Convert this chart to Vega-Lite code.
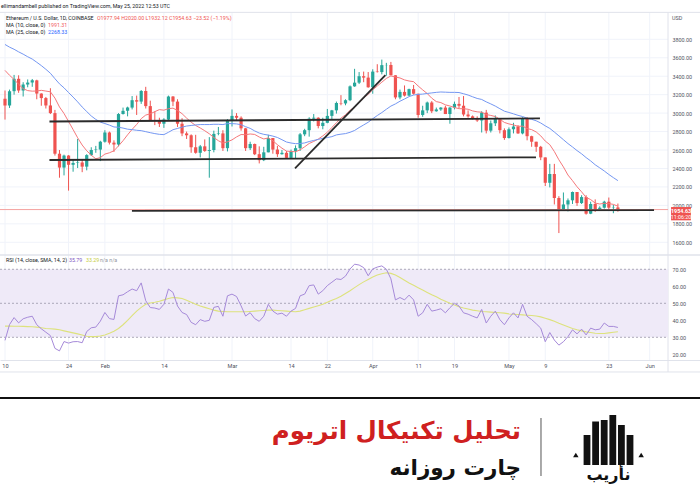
{
  "$schema": "https://vega.github.io/schema/vega-lite/v6.json",
  "width": 700,
  "height": 500,
  "autosize": {"type": "none"},
  "padding": 0,
  "background": "white",
  "config": {
    "view": {"stroke": null},
    "font": "Roboto",
    "axis": {"domain": false, "ticks": false, "grid": false, "labelFont": "Roboto", "labelFontSize": 5.4, "labelColor": "#50535e"}
  },
  "datasets": {
    "d": [
      {"t":"2022-01-10","o":3157,"h":3245,"l":2930,"c":3083,"m10":3463,"m25":3744,"rsi":28.2,"rsm":36.6},
      {"t":"2022-01-11","o":3083,"h":3255,"l":3056,"c":3238,"m10":3410,"m25":3715,"rsi":37.5,"rsm":36.6},
      {"t":"2022-01-12","o":3238,"h":3414,"l":3200,"c":3372,"m10":3365,"m25":3692,"rsi":41.6,"rsm":36.5},
      {"t":"2022-01-13","o":3372,"h":3410,"l":3220,"c":3245,"m10":3313,"m25":3664,"rsi":38.5,"rsm":36.5},
      {"t":"2022-01-14","o":3245,"h":3335,"l":3180,"c":3310,"m10":3265,"m25":3639,"rsi":40.9,"rsm":36.4},
      {"t":"2022-01-15","o":3310,"h":3365,"l":3280,"c":3331,"m10":3244,"m25":3611,"rsi":41.8,"rsm":36.3},
      {"t":"2022-01-16","o":3331,"h":3370,"l":3285,"c":3355,"m10":3238,"m25":3586,"rsi":42.4,"rsm":36.2},
      {"t":"2022-01-17","o":3355,"h":3362,"l":3150,"c":3212,"m10":3240,"m25":3551,"rsi":37.4,"rsm":36.0},
      {"t":"2022-01-18","o":3212,"h":3215,"l":3080,"c":3163,"m10":3247,"m25":3515,"rsi":35.0,"rsm":35.6},
      {"t":"2022-01-19","o":3163,"h":3175,"l":3050,"c":3083,"m10":3239,"m25":3475,"rsi":33.0,"rsm":35.2},
      {"t":"2022-01-20","o":3083,"h":3270,"l":2990,"c":3000,"m10":3231,"m25":3432,"rsi":31.0,"rsm":35.0},
      {"t":"2022-01-21","o":3000,"h":3035,"l":2540,"c":2560,"m10":3163,"m25":3373,"rsi":23.5,"rsm":34.8},
      {"t":"2022-01-22","o":2560,"h":2600,"l":2300,"c":2410,"m10":3067,"m25":3317,"rsi":22.0,"rsm":34.4},
      {"t":"2022-01-23","o":2410,"h":2550,"l":2325,"c":2540,"m10":2996,"m25":3274,"rsi":27.5,"rsm":33.8},
      {"t":"2022-01-24","o":2540,"h":2545,"l":2160,"c":2440,"m10":2909,"m25":3223,"rsi":26.6,"rsm":33.2},
      {"t":"2022-01-25","o":2440,"h":2500,"l":2365,"c":2460,"m10":2822,"m25":3174,"rsi":27.4,"rsm":32.6},
      {"t":"2022-01-26","o":2460,"h":2720,"l":2405,"c":2465,"m10":2733,"m25":3122,"rsi":27.5,"rsm":32.0},
      {"t":"2022-01-27","o":2465,"h":2500,"l":2360,"c":2420,"m10":2654,"m25":3066,"rsi":26.8,"rsm":31.3},
      {"t":"2022-01-28","o":2420,"h":2555,"l":2380,"c":2545,"m10":2592,"m25":3017,"rsi":33.4,"rsm":30.6},
      {"t":"2022-01-29","o":2545,"h":2630,"l":2535,"c":2600,"m10":2544,"m25":2969,"rsi":35.6,"rsm":30.4},
      {"t":"2022-01-30","o":2600,"h":2645,"l":2570,"c":2605,"m10":2505,"m25":2932,"rsi":36.0,"rsm":30.4},
      {"t":"2022-01-31","o":2605,"h":2700,"l":2480,"c":2690,"m10":2518,"m25":2903,"rsi":39.5,"rsm":30.8},
      {"t":"2022-02-01","o":2690,"h":2815,"l":2680,"c":2790,"m10":2556,"m25":2887,"rsi":44.6,"rsm":31.4},
      {"t":"2022-02-02","o":2790,"h":2800,"l":2660,"c":2680,"m10":2570,"m25":2870,"rsi":41.0,"rsm":32.4},
      {"t":"2022-02-03","o":2680,"h":2705,"l":2580,"c":2660,"m10":2592,"m25":2850,"rsi":40.5,"rsm":33.6},
      {"t":"2022-02-04","o":2660,"h":3000,"l":2640,"c":2990,"m10":2645,"m25":2847,"rsi":54.4,"rsm":35.2},
      {"t":"2022-02-05","o":2990,"h":3060,"l":2985,"c":3025,"m10":2701,"m25":2838,"rsi":55.0,"rsm":37.4},
      {"t":"2022-02-06","o":3025,"h":3070,"l":2965,"c":3060,"m10":2765,"m25":2826,"rsi":56.8,"rsm":40.0},
      {"t":"2022-02-07","o":3060,"h":3185,"l":3040,"c":3140,"m10":2824,"m25":2821,"rsi":58.4,"rsm":42.8},
      {"t":"2022-02-08","o":3140,"h":3190,"l":2980,"c":3125,"m10":2877,"m25":2814,"rsi":57.4,"rsm":45.4},
      {"t":"2022-02-09","o":3125,"h":3250,"l":3100,"c":3240,"m10":2940,"m25":2810,"rsi":62.0,"rsm":47.6},
      {"t":"2022-02-10","o":3240,"h":3285,"l":3050,"c":3076,"m10":2979,"m25":2799,"rsi":51.5,"rsm":49.4},
      {"t":"2022-02-11","o":3076,"h":3135,"l":2920,"c":2925,"m10":2992,"m25":2788,"rsi":47.5,"rsm":50.2},
      {"t":"2022-02-12","o":2925,"h":3020,"l":2870,"c":2915,"m10":3016,"m25":2778,"rsi":47.2,"rsm":50.6},
      {"t":"2022-02-13","o":2915,"h":2950,"l":2850,"c":2885,"m10":3038,"m25":2770,"rsi":46.4,"rsm":51.2},
      {"t":"2022-02-14","o":2885,"h":2945,"l":2840,"c":2930,"m10":3032,"m25":2767,"rsi":49.4,"rsm":52.0},
      {"t":"2022-02-15","o":2930,"h":3190,"l":2925,"c":3180,"m10":3048,"m25":2792,"rsi":58.4,"rsm":52.8},
      {"t":"2022-02-16","o":3180,"h":3185,"l":3075,"c":3125,"m10":3054,"m25":2820,"rsi":56.4,"rsm":53.4},
      {"t":"2022-02-17","o":3125,"h":3150,"l":2850,"c":2885,"m10":3029,"m25":2834,"rsi":48.4,"rsm":53.2},
      {"t":"2022-02-18","o":2885,"h":2945,"l":2750,"c":2780,"m10":2994,"m25":2848,"rsi":44.6,"rsm":52.8},
      {"t":"2022-02-19","o":2780,"h":2800,"l":2720,"c":2760,"m10":2946,"m25":2860,"rsi":43.4,"rsm":51.8},
      {"t":"2022-02-20","o":2760,"h":2770,"l":2570,"c":2630,"m10":2902,"m25":2866,"rsi":38.8,"rsm":50.6},
      {"t":"2022-02-21","o":2630,"h":2765,"l":2560,"c":2570,"m10":2866,"m25":2872,"rsi":37.4,"rsm":49.4},
      {"t":"2022-02-22","o":2570,"h":2655,"l":2520,"c":2640,"m10":2839,"m25":2876,"rsi":40.4,"rsm":48.4},
      {"t":"2022-02-23","o":2640,"h":2715,"l":2580,"c":2590,"m10":2809,"m25":2876,"rsi":39.4,"rsm":47.6},
      {"t":"2022-02-24","o":2590,"h":2740,"l":2300,"c":2600,"m10":2776,"m25":2876,"rsi":40.0,"rsm":46.8},
      {"t":"2022-02-25","o":2600,"h":2810,"l":2575,"c":2775,"m10":2736,"m25":2879,"rsi":47.6,"rsm":46.0},
      {"t":"2022-02-26","o":2775,"h":2850,"l":2760,"c":2780,"m10":2701,"m25":2879,"rsi":48.2,"rsm":45.4},
      {"t":"2022-02-27","o":2780,"h":2815,"l":2590,"c":2620,"m10":2675,"m25":2876,"rsi":42.4,"rsm":45.2},
      {"t":"2022-02-28","o":2620,"h":2935,"l":2585,"c":2920,"m10":2689,"m25":2887,"rsi":54.4,"rsm":45.0},
      {"t":"2022-03-01","o":2920,"h":3040,"l":2855,"c":2970,"m10":2710,"m25":2886,"rsi":55.4,"rsm":45.0},
      {"t":"2022-03-02","o":2970,"h":3000,"l":2915,"c":2950,"m10":2742,"m25":2883,"rsi":54.0,"rsm":45.0},
      {"t":"2022-03-03","o":2950,"h":2965,"l":2810,"c":2835,"m10":2768,"m25":2874,"rsi":48.5,"rsm":45.0},
      {"t":"2022-03-04","o":2835,"h":2840,"l":2590,"c":2620,"m10":2766,"m25":2853,"rsi":42.5,"rsm":45.0},
      {"t":"2022-03-05","o":2620,"h":2690,"l":2600,"c":2665,"m10":2774,"m25":2835,"rsi":44.5,"rsm":45.2},
      {"t":"2022-03-06","o":2665,"h":2670,"l":2545,"c":2555,"m10":2769,"m25":2807,"rsi":41.0,"rsm":45.4},
      {"t":"2022-03-07","o":2555,"h":2640,"l":2455,"c":2490,"m10":2741,"m25":2784,"rsi":39.4,"rsm":45.6},
      {"t":"2022-03-08","o":2490,"h":2635,"l":2480,"c":2575,"m10":2720,"m25":2770,"rsi":42.4,"rsm":45.8},
      {"t":"2022-03-09","o":2575,"h":2765,"l":2575,"c":2730,"m10":2731,"m25":2762,"rsi":49.4,"rsm":46.0},
      {"t":"2022-03-10","o":2730,"h":2730,"l":2560,"c":2605,"m10":2700,"m25":2751,"rsi":45.4,"rsm":46.0},
      {"t":"2022-03-11","o":2605,"h":2645,"l":2525,"c":2555,"m10":2658,"m25":2736,"rsi":43.6,"rsm":45.8},
      {"t":"2022-03-12","o":2555,"h":2600,"l":2550,"c":2570,"m10":2620,"m25":2712,"rsi":44.2,"rsm":45.6},
      {"t":"2022-03-13","o":2570,"h":2590,"l":2505,"c":2515,"m10":2588,"m25":2687,"rsi":42.4,"rsm":45.4},
      {"t":"2022-03-14","o":2515,"h":2605,"l":2505,"c":2590,"m10":2585,"m25":2676,"rsi":45.4,"rsm":45.2},
      {"t":"2022-03-15","o":2590,"h":2650,"l":2505,"c":2620,"m10":2581,"m25":2669,"rsi":47.0,"rsm":45.0},
      {"t":"2022-03-16","o":2620,"h":2785,"l":2590,"c":2770,"m10":2602,"m25":2670,"rsi":54.4,"rsm":45.4},
      {"t":"2022-03-17","o":2770,"h":2830,"l":2750,"c":2815,"m10":2635,"m25":2677,"rsi":55.4,"rsm":46.2},
      {"t":"2022-03-18","o":2815,"h":2955,"l":2745,"c":2940,"m10":2671,"m25":2692,"rsi":60.4,"rsm":47.0},
      {"t":"2022-03-19","o":2940,"h":2990,"l":2910,"c":2950,"m10":2693,"m25":2704,"rsi":60.8,"rsm":47.8},
      {"t":"2022-03-20","o":2950,"h":2955,"l":2835,"c":2860,"m10":2719,"m25":2715,"rsi":55.4,"rsm":48.6},
      {"t":"2022-03-21","o":2860,"h":2950,"l":2825,"c":2895,"m10":2753,"m25":2727,"rsi":57.4,"rsm":49.4},
      {"t":"2022-03-22","o":2895,"h":3045,"l":2890,"c":2970,"m10":2793,"m25":2735,"rsi":60.4,"rsm":50.6},
      {"t":"2022-03-23","o":2970,"h":3035,"l":2935,"c":3030,"m10":2844,"m25":2745,"rsi":62.4,"rsm":51.8},
      {"t":"2022-03-24","o":3030,"h":3125,"l":2995,"c":3110,"m10":2896,"m25":2764,"rsi":64.4,"rsm":52.8},
      {"t":"2022-03-25","o":3110,"h":3195,"l":3085,"c":3105,"m10":2945,"m25":2772,"rsi":64.0,"rsm":54.2},
      {"t":"2022-03-26","o":3105,"h":3150,"l":3085,"c":3140,"m10":2982,"m25":2778,"rsi":66.0,"rsm":55.8},
      {"t":"2022-03-27","o":3140,"h":3300,"l":3130,"c":3290,"m10":3029,"m25":2792,"rsi":70.2,"rsm":57.4},
      {"t":"2022-03-28","o":3290,"h":3480,"l":3285,"c":3330,"m10":3068,"m25":2812,"rsi":73.0,"rsm":59.2},
      {"t":"2022-03-29","o":3330,"h":3445,"l":3315,"c":3400,"m10":3113,"m25":2843,"rsi":72.5,"rsm":61.0},
      {"t":"2022-03-30","o":3400,"h":3450,"l":3335,"c":3385,"m10":3166,"m25":2872,"rsi":71.0,"rsm":62.6},
      {"t":"2022-03-31","o":3385,"h":3445,"l":3275,"c":3280,"m10":3204,"m25":2901,"rsi":66.2,"rsm":64.0},
      {"t":"2022-04-01","o":3280,"h":3475,"l":3210,"c":3450,"m10":3252,"m25":2939,"rsi":70.2,"rsm":65.4},
      {"t":"2022-04-02","o":3450,"h":3530,"l":3440,"c":3445,"m10":3294,"m25":2974,"rsi":71.3,"rsm":66.6},
      {"t":"2022-04-03","o":3445,"h":3580,"l":3420,"c":3520,"m10":3335,"m25":3006,"rsi":72.0,"rsm":67.4},
      {"t":"2022-04-04","o":3520,"h":3545,"l":3405,"c":3522,"m10":3376,"m25":3042,"rsi":70.0,"rsm":68.0},
      {"t":"2022-04-05","o":3522,"h":3555,"l":3410,"c":3410,"m10":3403,"m25":3076,"rsi":64.4,"rsm":67.6},
      {"t":"2022-04-06","o":3410,"h":3410,"l":3150,"c":3170,"m10":3391,"m25":3100,"rsi":52.0,"rsm":66.6},
      {"t":"2022-04-07","o":3170,"h":3255,"l":3150,"c":3230,"m10":3381,"m25":3129,"rsi":53.4,"rsm":65.2},
      {"t":"2022-04-08","o":3230,"h":3300,"l":3180,"c":3190,"m10":3360,"m25":3153,"rsi":52.0,"rsm":63.6},
      {"t":"2022-04-09","o":3190,"h":3265,"l":3185,"c":3260,"m10":3348,"m25":3179,"rsi":54.8,"rsm":62.0},
      {"t":"2022-04-10","o":3260,"h":3305,"l":3200,"c":3210,"m10":3341,"m25":3196,"rsi":52.0,"rsm":60.6},
      {"t":"2022-04-11","o":3210,"h":3210,"l":2950,"c":2980,"m10":3294,"m25":3203,"rsi":42.4,"rsm":59.2},
      {"t":"2022-04-12","o":2980,"h":3080,"l":2960,"c":3030,"m10":3252,"m25":3206,"rsi":44.4,"rsm":57.8},
      {"t":"2022-04-13","o":3030,"h":3125,"l":3000,"c":3115,"m10":3212,"m25":3213,"rsi":49.4,"rsm":56.4},
      {"t":"2022-04-14","o":3115,"h":3130,"l":3000,"c":3020,"m10":3162,"m25":3219,"rsi":45.4,"rsm":55.0},
      {"t":"2022-04-15","o":3020,"h":3060,"l":3015,"c":3040,"m10":3125,"m25":3225,"rsi":46.0,"rsm":53.8},
      {"t":"2022-04-16","o":3040,"h":3065,"l":3025,"c":3060,"m10":3114,"m25":3229,"rsi":46.8,"rsm":52.4},
      {"t":"2022-04-17","o":3060,"h":3080,"l":2990,"c":2990,"m10":3090,"m25":3227,"rsi":44.4,"rsm":51.2},
      {"t":"2022-04-18","o":2990,"h":3065,"l":2885,"c":3060,"m10":3077,"m25":3225,"rsi":47.4,"rsm":50.0},
      {"t":"2022-04-19","o":3060,"h":3125,"l":3040,"c":3100,"m10":3061,"m25":3225,"rsi":50.0,"rsm":49.0},
      {"t":"2022-04-20","o":3100,"h":3175,"l":3055,"c":3080,"m10":3048,"m25":3223,"rsi":48.4,"rsm":48.0},
      {"t":"2022-04-21","o":3080,"h":3185,"l":2965,"c":2985,"m10":3048,"m25":3210,"rsi":44.4,"rsm":47.2},
      {"t":"2022-04-22","o":2985,"h":3030,"l":2950,"c":2965,"m10":3042,"m25":3196,"rsi":43.6,"rsm":46.6},
      {"t":"2022-04-23","o":2965,"h":2975,"l":2930,"c":2935,"m10":3024,"m25":3177,"rsi":42.4,"rsm":46.0},
      {"t":"2022-04-24","o":2935,"h":2965,"l":2905,"c":2920,"m10":3014,"m25":3159,"rsi":41.4,"rsm":45.6},
      {"t":"2022-04-25","o":2920,"h":3020,"l":2790,"c":3005,"m10":3010,"m25":3148,"rsi":46.4,"rsm":45.2},
      {"t":"2022-04-26","o":3005,"h":3035,"l":2780,"c":2810,"m10":2985,"m25":3122,"rsi":38.4,"rsm":45.0},
      {"t":"2022-04-27","o":2810,"h":2920,"l":2790,"c":2890,"m10":2975,"m25":3100,"rsi":42.4,"rsm":44.8},
      {"t":"2022-04-28","o":2890,"h":2975,"l":2860,"c":2935,"m10":2963,"m25":3076,"rsi":45.4,"rsm":44.6},
      {"t":"2022-04-29","o":2935,"h":2945,"l":2780,"c":2815,"m10":2934,"m25":3048,"rsi":40.4,"rsm":44.4},
      {"t":"2022-04-30","o":2815,"h":2835,"l":2710,"c":2730,"m10":2899,"m25":3021,"rsi":37.4,"rsm":44.2},
      {"t":"2022-05-01","o":2730,"h":2845,"l":2725,"c":2825,"m10":2883,"m25":3007,"rsi":41.4,"rsm":43.8},
      {"t":"2022-05-02","o":2825,"h":2895,"l":2780,"c":2855,"m10":2872,"m25":2992,"rsi":44.4,"rsm":43.6},
      {"t":"2022-05-03","o":2855,"h":2870,"l":2775,"c":2780,"m10":2857,"m25":2976,"rsi":41.4,"rsm":43.4},
      {"t":"2022-05-04","o":2780,"h":2955,"l":2770,"c":2940,"m10":2859,"m25":2963,"rsi":49.4,"rsm":43.2},
      {"t":"2022-05-05","o":2940,"h":2955,"l":2705,"c":2750,"m10":2833,"m25":2945,"rsi":42.4,"rsm":43.0},
      {"t":"2022-05-06","o":2750,"h":2755,"l":2635,"c":2690,"m10":2821,"m25":2933,"rsi":40.4,"rsm":42.8},
      {"t":"2022-05-07","o":2690,"h":2690,"l":2580,"c":2635,"m10":2796,"m25":2917,"rsi":38.0,"rsm":42.5},
      {"t":"2022-05-08","o":2635,"h":2645,"l":2490,"c":2520,"m10":2754,"m25":2893,"rsi":35.4,"rsm":42.0},
      {"t":"2022-05-09","o":2520,"h":2520,"l":2210,"c":2245,"m10":2697,"m25":2862,"rsi":27.4,"rsm":41.2},
      {"t":"2022-05-10","o":2245,"h":2450,"l":2195,"c":2340,"m10":2658,"m25":2834,"rsi":32.8,"rsm":40.4},
      {"t":"2022-05-11","o":2340,"h":2450,"l":2010,"c":2080,"m10":2584,"m25":2795,"rsi":28.4,"rsm":39.4},
      {"t":"2022-05-12","o":2080,"h":2100,"l":1700,"c":1960,"m10":2494,"m25":2754,"rsi":25.4,"rsm":38.2},
      {"t":"2022-05-13","o":1960,"h":2140,"l":1950,"c":2010,"m10":2417,"m25":2712,"rsi":27.4,"rsm":37.2},
      {"t":"2022-05-14","o":2010,"h":2075,"l":1935,"c":2055,"m10":2329,"m25":2670,"rsi":30.4,"rsm":36.2},
      {"t":"2022-05-15","o":2055,"h":2150,"l":2015,"c":2145,"m10":2268,"m25":2633,"rsi":34.4,"rsm":35.2},
      {"t":"2022-05-16","o":2145,"h":2145,"l":1995,"c":2025,"m10":2202,"m25":2594,"rsi":32.0,"rsm":34.4},
      {"t":"2022-05-17","o":2025,"h":2110,"l":2015,"c":2090,"m10":2147,"m25":2559,"rsi":34.8,"rsm":33.8},
      {"t":"2022-05-18","o":2090,"h":2110,"l":1900,"c":1910,"m10":2086,"m25":2518,"rsi":31.4,"rsm":33.2},
      {"t":"2022-05-19","o":1910,"h":2040,"l":1905,"c":2015,"m10":2063,"m25":2482,"rsi":35.4,"rsm":32.8},
      {"t":"2022-05-20","o":2015,"h":2065,"l":1930,"c":1960,"m10":2025,"m25":2440,"rsi":34.4,"rsm":32.4},
      {"t":"2022-05-21","o":1960,"h":1990,"l":1945,"c":1975,"m10":2015,"m25":2407,"rsi":34.8,"rsm":32.2},
      {"t":"2022-05-22","o":1975,"h":2050,"l":1965,"c":2040,"m10":2023,"m25":2373,"rsi":38.4,"rsm":32.2},
      {"t":"2022-05-23","o":2040,"h":2085,"l":1960,"c":1975,"m10":2019,"m25":2335,"rsi":36.4,"rsm":32.6},
      {"t":"2022-05-24","o":1975,"h":2005,"l":1915,"c":1978,"m10":2011,"m25":2301,"rsi":36.4,"rsm":33.0},
      {"t":"2022-05-25","o":1977.94,"h":2020,"l":1932.12,"c":1954.63,"m10":1991.31,"m25":2268.33,"rsi":35.79,"rsm":33.29}
    ],
    "draw": [
      {"t1":"2022-01-19T19:00:00Z","t2":"2022-05-07T20:00:00Z","p1":2909,"p2":2942},
      {"t1":"2022-01-19T19:00:00Z","t2":"2022-05-06T23:00:00Z","p1":2492,"p2":2521},
      {"t1":"2022-02-06T23:00:00Z","t2":"2022-06-01T23:00:00Z","p1":1941,"p2":1949},
      {"t1":"2022-03-14T21:00:00Z","t2":"2022-04-03T19:00:00Z","p1":2402,"p2":3413}
    ],
    "ticks": [
      {"t":"2022-01-10"},{"t":"2022-01-24"},{"t":"2022-02-01"},{"t":"2022-02-14"},{"t":"2022-03-01"},{"t":"2022-03-14"},{"t":"2022-03-22"},
      {"t":"2022-04-01"},{"t":"2022-04-11"},{"t":"2022-04-19"},{"t":"2022-05-01"},{"t":"2022-05-09"},{"t":"2022-05-23"},{"t":"2022-06-01"}
    ],
    "levels": [{"v":1600},{"v":1800},{"v":2000},{"v":2200},{"v":2400},{"v":2600},{"v":2800},{"v":3000},{"v":3200},{"v":3400},{"v":3600},{"v":3800}],
    "rsiLevels": [{"v":70},{"v":50},{"v":30}],
    "logo": [{"i":0,"h":0.6},{"i":1,"h":0.87},{"i":2,"h":0.9},{"i":3,"h":1.0},{"i":4,"h":0.8},{"i":5,"h":0.6}]
  },
  "layer": [
    {
      "resolve": {"scale": {"y": "independent"}},
      "layer": [
        {
          "layer": [
            {
              "data": {"name": "ticks"},
              "mark": {"type": "rule", "color": "#f0f3fa", "strokeWidth": 1},
              "encoding": {
                "x": {"field": "t", "type": "temporal", "title": null,
                  "scale": {"type": "utc", "padding": 0, "domain": [{"year":2022,"month":"jan","date":8,"hours":21,"minutes":34,"utc":true},{"year":2022,"month":"jun","date":12,"hours":2,"utc":true}]},
                  "axis": {"orient": "bottom", "offset": -140, "domain": true, "domainColor": "#e0e3eb", "labelPadding": 3, "labelFontSize": 5.6, "labelBaseline": "top", "labelOverlap": false, "labelFlush": false,
                    "values": [
                      {"year":2022,"month":"jan","date":10,"utc":true},{"year":2022,"month":"jan","date":24,"utc":true},{"year":2022,"month":"feb","date":1,"utc":true},{"year":2022,"month":"feb","date":14,"utc":true},
                      {"year":2022,"month":"mar","date":1,"utc":true},{"year":2022,"month":"mar","date":14,"utc":true},{"year":2022,"month":"mar","date":22,"utc":true},{"year":2022,"month":"apr","date":1,"utc":true},
                      {"year":2022,"month":"apr","date":11,"utc":true},{"year":2022,"month":"apr","date":19,"utc":true},{"year":2022,"month":"may","date":1,"utc":true},{"year":2022,"month":"may","date":9,"utc":true},
                      {"year":2022,"month":"may","date":23,"utc":true},{"year":2022,"month":"jun","date":1,"utc":true}],
                    "labelExpr": "utcdate(datum.value) == 1 ? utcFormat(datum.value, '%b') : utcFormat(datum.value, '%-d')"}},
                "y": {"datum": 4092, "type": "quantitative", "scale": {"domain": [-1193, 4226], "nice": false, "zero": false, "padding": 0}},
                "y2": {"datum": 324}
              }
            },
            {
              "data": {"name": "levels"},
              "mark": {"type": "rule", "color": "#f0f3fa", "strokeWidth": 1},
              "encoding": {
                "y": {"field": "v", "type": "quantitative", "title": null,
                  "scale": {"domain": [-1193, 4226], "nice": false, "zero": false, "padding": 0},
                  "axis": {"orient": "right", "offset": -32, "labelPadding": 4, "format": ".2f", "labelFontSize": 5.4, "values": [1600,1800,2000,2200,2400,2600,2800,3000,3200,3400,3600,3800]}},
                "x": {"datum": {"year":2022,"month":"jan","date":8,"hours":21,"minutes":34,"utc":true}, "type": "temporal"},
                "x2": {"datum": {"year":2022,"month":"jun","date":5,"hours":1,"utc":true}}
              }
            },
            {
              "data": {"values": [{}]},
              "mark": {"type": "rule", "color": "#e0e3eb", "strokeWidth": 1},
              "encoding": {"y": {"datum": 4092, "type": "quantitative"}}
            },
            {
              "data": {"values": [{}]},
              "mark": {"type": "rule", "color": "#e0e3eb", "strokeWidth": 1.5},
              "encoding": {"y": {"datum": 1462, "type": "quantitative"}}
            },
            {
              "data": {"values": [{}]},
              "mark": {"type": "rule", "color": "#e0e3eb", "strokeWidth": 1},
              "encoding": {
                "x": {"datum": {"year":2022,"month":"jun","date":5,"hours":1,"utc":true}, "type": "temporal"},
                "y": {"datum": 4092, "type": "quantitative"},
                "y2": {"datum": 194}
              }
            },
            {
              "data": {"name": "d"},
              "mark": {"type": "rule", "strokeWidth": 1},
              "encoding": {
                "x": {"field": "t", "type": "temporal", "title": null},
                "y": {"field": "l", "type": "quantitative", "title": null},
                "y2": {"field": "h"},
                "color": {"condition": {"test": "datum.c >= datum.o", "value": "#26a69a"}, "value": "#ef5350"}
              }
            },
            {
              "data": {"name": "d"},
              "mark": {"type": "bar", "size": 3.2},
              "encoding": {
                "x": {"field": "t", "type": "temporal", "title": null},
                "y": {"field": "o", "type": "quantitative", "title": null},
                "y2": {"field": "c"},
                "color": {"condition": {"test": "datum.c >= datum.o", "value": "#26a69a"}, "value": "#ef5350"}
              }
            },
            {
              "data": {"name": "d"},
              "mark": {"type": "line", "color": "#f5787b", "strokeWidth": 1},
              "encoding": {
                "x": {"field": "t", "type": "temporal", "title": null},
                "y": {"field": "m10", "type": "quantitative", "title": null}
              }
            },
            {
              "data": {"name": "d"},
              "mark": {"type": "line", "color": "#7497f2", "strokeWidth": 1},
              "encoding": {
                "x": {"field": "t", "type": "temporal", "title": null},
                "y": {"field": "m25", "type": "quantitative", "title": null}
              }
            },
            {
              "data": {"values": [{}]},
              "mark": {"type": "rule", "color": "#f4a3a1", "strokeWidth": 1},
              "encoding": {
                "x": {"datum": {"year":2022,"month":"jan","date":8,"hours":21,"minutes":34,"utc":true}, "type": "temporal"},
                "x2": {"datum": {"year":2022,"month":"jun","date":5,"hours":1,"utc":true}},
                "y": {"datum": 1954.63, "type": "quantitative"}
              }
            },
            {
              "data": {"name": "draw"},
              "mark": {"type": "rule", "color": "#2b2b2b", "strokeWidth": 1.8},
              "encoding": {
                "x": {"field": "t1", "type": "temporal", "title": null},
                "x2": {"field": "t2"},
                "y": {"field": "p1", "type": "quantitative", "title": null},
                "y2": {"field": "p2"}
              }
            },
            {
              "data": {"values": [{}]},
              "mark": {"type": "rect", "color": "#ef5350"},
              "encoding": {
                "x": {"datum": {"year":2022,"month":"jun","date":5,"hours":17,"utc":true}, "type": "temporal"},
                "x2": {"datum": {"year":2022,"month":"jun","date":10,"hours":2,"utc":true}},
                "y": {"datum": 1982, "type": "quantitative"},
                "y2": {"datum": 1838}
              }
            },
            {
              "data": {"values": [{"s": "1954.63"}]},
              "mark": {"type": "text", "color": "white", "fontSize": 5.4, "fontWeight": "bold", "align": "center", "baseline": "middle"},
              "encoding": {
                "x": {"datum": {"year":2022,"month":"jun","date":7,"hours":22,"utc":true}, "type": "temporal"},
                "y": {"datum": 1940, "type": "quantitative"},
                "text": {"field": "s"}
              }
            },
            {
              "data": {"values": [{"s": "11:06:20"}]},
              "mark": {"type": "text", "color": "white", "fontSize": 5.3, "align": "center", "baseline": "middle"},
              "encoding": {
                "x": {"datum": {"year":2022,"month":"jun","date":7,"hours":22,"utc":true}, "type": "temporal"},
                "y": {"datum": 1875, "type": "quantitative"},
                "text": {"field": "s"}
              }
            },
            {
              "data": {"values": [{"s": "USD"}]},
              "mark": {"type": "text", "color": "#50535e", "fontSize": 5.4, "align": "left", "baseline": "middle"},
              "encoding": {
                "x": {"datum": {"year":2022,"month":"jun","date":5,"hours":22,"utc":true}, "type": "temporal"},
                "y": {"datum": 4036, "type": "quantitative"},
                "text": {"field": "s"}
              }
            },
            {
              "data": {"values": [{"s": "ellimandambell published on TradingView.com, May 25, 2022 12:53 UTC"}]},
              "mark": {"type": "text", "color": "#131722", "fontSize": 5.3, "align": "left", "baseline": "middle"},
              "encoding": {
                "x": {"datum": {"year":2022,"month":"jan","date":9,"hours":3,"utc":true}, "type": "temporal"},
                "y": {"datum": 4161, "type": "quantitative"},
                "text": {"field": "s"}
              }
            },
            {
              "data": {"values": [{"s": "Ethereum / U.S. Dollar, 1D, COINBASE"}]},
              "mark": {"type": "text", "color": "#131722", "fontSize": 5.3, "align": "left", "baseline": "middle"},
              "encoding": {
                "x": {"datum": {"year":2022,"month":"jan","date":10,"hours":5,"utc":true}, "type": "temporal"},
                "y": {"datum": 4036, "type": "quantitative"},
                "text": {"field": "s"}
              }
            },
            {
              "data": {"values": [{"s": "O1977.94  H2020.00  L1932.12  C1954.63  −23.52 (−1.19%)"}]},
              "mark": {"type": "text", "color": "#ef5350", "fontSize": 5.3, "align": "left", "baseline": "middle", "dx": 91},
              "encoding": {
                "x": {"datum": {"year":2022,"month":"jan","date":10,"hours":5,"utc":true}, "type": "temporal"},
                "y": {"datum": 4036, "type": "quantitative"},
                "text": {"field": "s"}
              }
            },
            {
              "data": {"values": [{"s": "MA (10, close, 0)"}]},
              "mark": {"type": "text", "color": "#131722", "fontSize": 5.3, "align": "left", "baseline": "middle"},
              "encoding": {
                "x": {"datum": {"year":2022,"month":"jan","date":10,"hours":5,"utc":true}, "type": "temporal"},
                "y": {"datum": 3955, "type": "quantitative"},
                "text": {"field": "s"}
              }
            },
            {
              "data": {"values": [{"s": "1991.31"}]},
              "mark": {"type": "text", "color": "#f0555c", "fontSize": 5.3, "align": "left", "baseline": "middle", "dx": 42},
              "encoding": {
                "x": {"datum": {"year":2022,"month":"jan","date":10,"hours":5,"utc":true}, "type": "temporal"},
                "y": {"datum": 3955, "type": "quantitative"},
                "text": {"field": "s"}
              }
            },
            {
              "data": {"values": [{"s": "MA (25, close, 0)"}]},
              "mark": {"type": "text", "color": "#131722", "fontSize": 5.3, "align": "left", "baseline": "middle"},
              "encoding": {
                "x": {"datum": {"year":2022,"month":"jan","date":10,"hours":5,"utc":true}, "type": "temporal"},
                "y": {"datum": 3874, "type": "quantitative"},
                "text": {"field": "s"}
              }
            },
            {
              "data": {"values": [{"s": "2268.33"}]},
              "mark": {"type": "text", "color": "#2962ff", "fontSize": 5.3, "align": "left", "baseline": "middle", "dx": 42},
              "encoding": {
                "x": {"datum": {"year":2022,"month":"jan","date":10,"hours":5,"utc":true}, "type": "temporal"},
                "y": {"datum": 3874, "type": "quantitative"},
                "text": {"field": "s"}
              }
            }
          ]
        },
        {
          "layer": [
            {
              "data": {"values": [{}]},
              "mark": {"type": "rect", "color": "#efeaf8"},
              "encoding": {
                "x": {"datum": {"year":2022,"month":"jan","date":8,"hours":21,"minutes":34,"utc":true}, "type": "temporal",
                  "scale": {"type": "utc", "padding": 0, "domain": [{"year":2022,"month":"jan","date":8,"hours":21,"minutes":34,"utc":true},{"year":2022,"month":"jun","date":12,"hours":2,"utc":true}]}},
                "x2": {"datum": {"year":2022,"month":"jun","date":5,"hours":1,"utc":true}},
                "y": {"datum": 70, "type": "quantitative", "title": null,
                  "scale": {"domain": [-65.7, 228.4], "nice": false, "zero": false, "padding": 0},
                  "axis": {"orient": "right", "offset": -32, "labelPadding": 4, "format": ".2f", "labelFontSize": 5.4, "values": [20,30,40,50,60,70]}},
                "y2": {"datum": 30}
              }
            },
            {
              "data": {"name": "rsiLevels"},
              "mark": {"type": "rule", "color": "#9b98a8", "strokeWidth": 0.8, "strokeDash": [2, 2]},
              "encoding": {
                "x": {"datum": {"year":2022,"month":"jan","date":8,"hours":21,"minutes":34,"utc":true}, "type": "temporal"},
                "x2": {"datum": {"year":2022,"month":"jun","date":5,"hours":1,"utc":true}},
                "y": {"field": "v", "type": "quantitative", "title": null}
              }
            },
            {
              "data": {"name": "d"},
              "mark": {"type": "line", "color": "#dde27c", "strokeWidth": 1.1},
              "encoding": {
                "x": {"field": "t", "type": "temporal", "title": null},
                "y": {"field": "rsm", "type": "quantitative", "title": null}
              }
            },
            {
              "data": {"name": "d"},
              "mark": {"type": "line", "color": "#a68ad9", "strokeWidth": 1},
              "encoding": {
                "x": {"field": "t", "type": "temporal", "title": null},
                "y": {"field": "rsi", "type": "quantitative", "title": null}
              }
            },
            {
              "data": {"values": [{}]},
              "mark": {"type": "rule", "color": "#e0e3eb", "strokeWidth": 1},
              "encoding": {"y": {"datum": 9.6, "type": "quantitative"}}
            },
            {
              "data": {"values": [{}]},
              "mark": {"type": "rule", "color": "#111111", "strokeWidth": 2},
              "encoding": {"y": {"datum": -5.7, "type": "quantitative"}}
            },
            {
              "data": {"values": [{"s": "RSI (14, close, SMA, 14, 2)"}]},
              "mark": {"type": "text", "color": "#131722", "fontSize": 5.3, "align": "left", "baseline": "middle"},
              "encoding": {
                "x": {"datum": {"year":2022,"month":"jan","date":10,"hours":5,"utc":true}, "type": "temporal"},
                "y": {"datum": 75.5, "type": "quantitative"},
                "text": {"field": "s"}
              }
            },
            {
              "data": {"values": [{"s": "35.79"}]},
              "mark": {"type": "text", "color": "#7e57c2", "fontSize": 5.3, "align": "left", "baseline": "middle", "dx": 63},
              "encoding": {
                "x": {"datum": {"year":2022,"month":"jan","date":10,"hours":5,"utc":true}, "type": "temporal"},
                "y": {"datum": 75.5, "type": "quantitative"},
                "text": {"field": "s"}
              }
            },
            {
              "data": {"values": [{"s": "33.29"}]},
              "mark": {"type": "text", "color": "#c5cc3a", "fontSize": 5.3, "align": "left", "baseline": "middle", "dx": 80},
              "encoding": {
                "x": {"datum": {"year":2022,"month":"jan","date":10,"hours":5,"utc":true}, "type": "temporal"},
                "y": {"datum": 75.5, "type": "quantitative"},
                "text": {"field": "s"}
              }
            },
            {
              "data": {"values": [{"s": "n/a  n/a"}]},
              "mark": {"type": "text", "color": "#9598a1", "fontSize": 5.3, "align": "left", "baseline": "middle", "dx": 94},
              "encoding": {
                "x": {"datum": {"year":2022,"month":"jan","date":10,"hours":5,"utc":true}, "type": "temporal"},
                "y": {"datum": 75.5, "type": "quantitative"},
                "text": {"field": "s"}
              }
            }
          ]
        }
      ]
    },
    {
      "layer": [
        {
          "data": {"name": "logo"},
          "mark": {"type": "bar", "color": "#111111", "size": 6.8},
          "encoding": {
            "x": {"field": "i", "type": "quantitative", "axis": null, "scale": {"domain": [0, 5], "range": [587, 630], "nice": false, "zero": false, "padding": 0}},
            "y": {"field": "h", "type": "quantitative", "axis": null, "scale": {"domain": [0, 1], "range": [465, 415], "nice": false, "zero": false, "padding": 0}}
          }
        },
        {
          "data": {"values": [{"k": "a"}]},
          "mark": {"type": "point", "shape": "triangle-up", "filled": true, "color": "#111111", "size": 30, "opacity": 1},
          "encoding": {
            "x": {"datum": -1.3, "type": "quantitative"},
            "y": {"datum": 0.2, "type": "quantitative"}
          }
        },
        {
          "data": {"values": [{"k": "b"}]},
          "mark": {"type": "point", "shape": "triangle-up", "filled": true, "color": "#111111", "size": 30, "opacity": 1},
          "encoding": {
            "x": {"datum": 6.3, "type": "quantitative"},
            "y": {"datum": 0.2, "type": "quantitative"}
          }
        },
        {
          "data": {"values": [{"s": "نأریب"}]},
          "mark": {"type": "text", "font": "DejaVu Sans", "fontWeight": "bold", "fontSize": 16, "color": "#111111", "align": "center", "baseline": "middle"},
          "encoding": {
            "x": {"datum": 2.5, "type": "quantitative"},
            "y": {"datum": -0.2, "type": "quantitative"},
            "text": {"field": "s"}
          }
        },
        {
          "data": {"values": [{}]},
          "mark": {"type": "rule", "color": "#555555", "strokeWidth": 1},
          "encoding": {
            "x": {"datum": -5.35, "type": "quantitative"},
            "y": {"datum": 0.94, "type": "quantitative"},
            "y2": {"datum": -0.22}
          }
        },
        {
          "data": {"values": [{"s": "تحلیل تکنیکال اتریوم"}]},
          "mark": {"type": "text", "font": "DejaVu Sans", "fontWeight": "bold", "fontSize": 24.5, "color": "#cf2020", "align": "right", "baseline": "middle"},
          "encoding": {
            "x": {"datum": -7.67, "type": "quantitative"},
            "y": {"datum": 0.66, "type": "quantitative"},
            "text": {"field": "s"}
          }
        },
        {
          "data": {"values": [{"s": "چارت روزانه"}]},
          "mark": {"type": "text", "font": "DejaVu Sans", "fontWeight": "bold", "fontSize": 21.5, "color": "#111111", "align": "right", "baseline": "middle"},
          "encoding": {
            "x": {"datum": -7.67, "type": "quantitative"},
            "y": {"datum": -0.08, "type": "quantitative"},
            "text": {"field": "s"}
          }
        }
      ]
    }
  ],
  "resolve": {"scale": {"x": "independent", "y": "independent"}}
}
